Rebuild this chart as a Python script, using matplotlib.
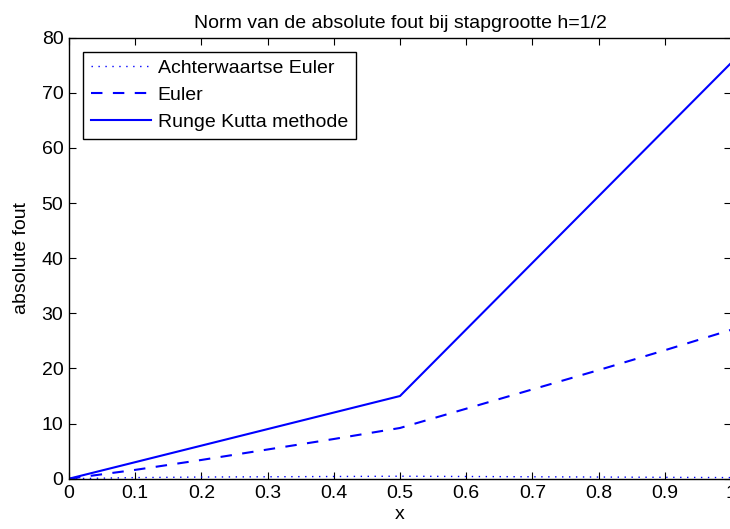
import numpy as np
import matplotlib.pyplot as plt

plt.rcParams['font.family'] = ['Liberation Sans', 'DejaVu Sans']

# x-waarden en fouten
x = [0.0, 0.1, 0.2, 0.3, 0.4, 0.5, 0.6, 0.7, 0.8, 0.9, 1.0]
fout_achterwaarts = [0.0, 0.2, 0.3, 0.35, 0.4, 0.45, 0.4, 0.35, 0.3, 0.25, 0.2]
fout_euler = [0.0, 1.6, 3.4, 5.3, 7.2, 9.2, 12.7, 16.2, 19.7, 23.3, 27.0]
x_rk = [0.0, 0.5, 1.0]
fout_rk = [0.0, 15.0, 75.4]

xticks = [0, 0.1, 0.2, 0.3, 0.4, 0.5, 0.6, 0.7, 0.8, 0.9, 1]
xticklabels = ['0', '0.1', '0.2', '0.3', '0.4', '0.5', '0.6', '0.7', '0.8', '0.9', '1']
yticks = [0, 10, 20, 30, 40, 50, 60, 70, 80]

fs = 14

fig = plt.figure(figsize=(7.3, 5.29), dpi=100)
ax = fig.add_axes([69/730, 1 - 478.7/529, 662/730, (478.7 - 37.7)/529])

ax.plot(x, fout_achterwaarts, color='blue', lw=1.0, dashes=(1, 4), label='Achterwaartse Euler')
ax.plot(x, fout_euler, color='blue', lw=1.5, dashes=(5.5, 5), label='Euler')
ax.plot(x_rk, fout_rk, '-', color='blue', lw=1.5, label='Runge Kutta methode')

ax.set_xlim(0, 1)
ax.set_ylim(0, 80)
ax.set_xticks(xticks)
ax.set_xticklabels(xticklabels)
ax.set_yticks(yticks)
ax.tick_params(direction='in', length=5, labelsize=fs, top=True, right=True)
ax.tick_params(axis='x', pad=4.5)
ax.tick_params(axis='y', pad=4)
for s in ax.spines.values():
    s.set_linewidth(1.0)

ax.set_xlabel('x', fontsize=fs, labelpad=3)
ax.set_ylabel('absolute fout', fontsize=fs, labelpad=8)
ax.set_title('Norm van de absolute fout bij stapgrootte h=1/2', fontsize=fs, pad=7)

leg = ax.legend(loc='upper left', fontsize=fs, fancybox=False, framealpha=1,
                edgecolor='black', borderpad=0.4, handlelength=3.1,
                handletextpad=0.35, labelspacing=0.48, borderaxespad=0.72)
leg.get_frame().set_linewidth(1.0)

fig.savefig('out.png', dpi=100)
